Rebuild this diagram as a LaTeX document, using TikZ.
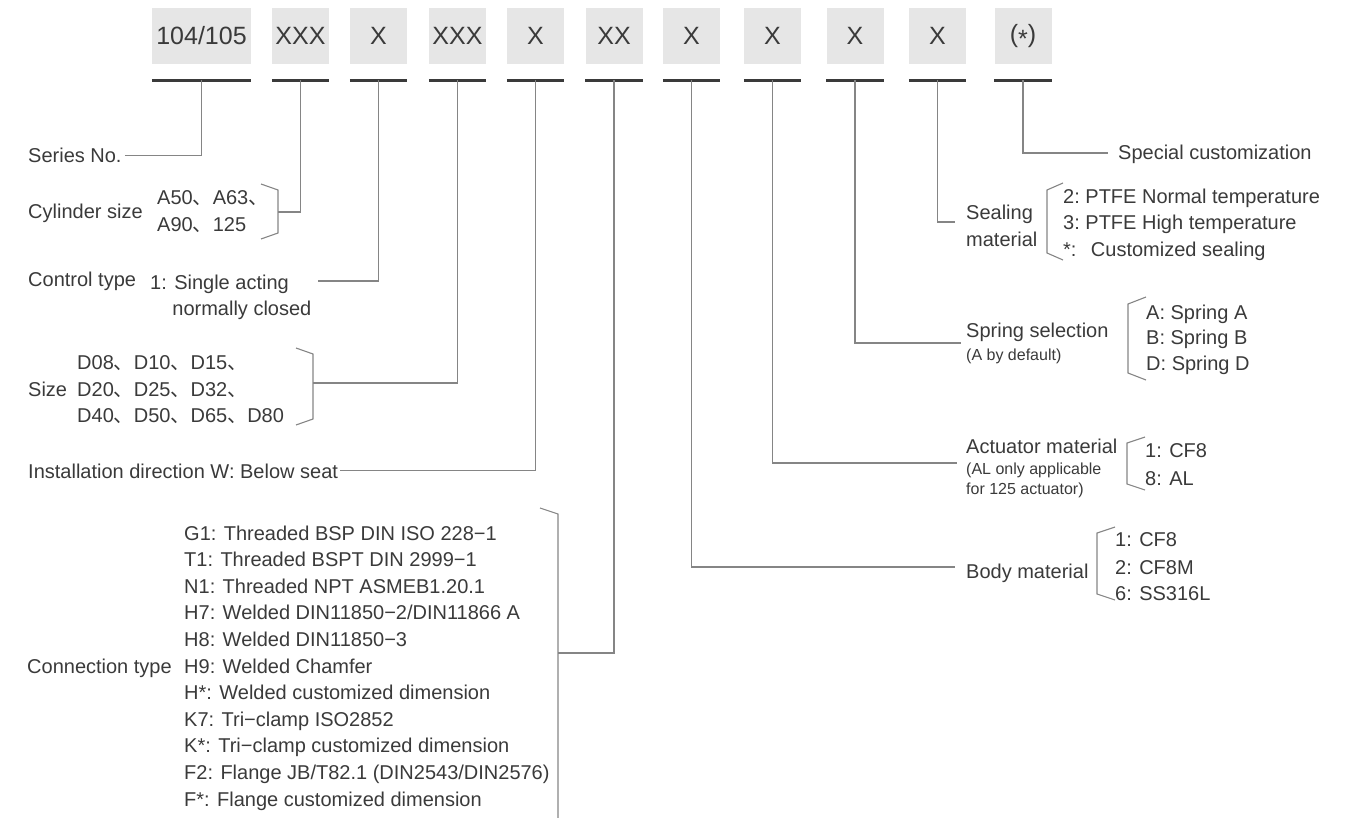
\documentclass[tikz,border=0pt]{standalone}
\usepackage{fontspec}
\setmainfont{Liberation Sans}
\newfontfamily\cjk{Noto Sans CJK SC}
\newcommand\dun{{\cjk 、}}
\definecolor{ink}{HTML}{3A3A3A}
\definecolor{wire}{HTML}{858585}
\definecolor{cellgray}{HTML}{E6E6E6}

\begin{document}
\begin{tikzpicture}[x=1pt,y=-1pt,
  cell/.style={fill=cellgray, minimum width=57pt, minimum height=56pt, inner sep=0pt,
               text=ink, font=\fontsize{25}{30}\selectfont},
  uline/.style={draw=ink, line width=2.8pt},
  conn/.style={draw=wire, line width=1.1pt},
  lbl/.style={inner sep=0pt, text=ink, anchor=base west, text height=15pt, text depth=0pt,
              font=\fontsize{20}{26}\selectfont},
  note/.style={lbl, text height=11pt, font=\fontsize{16}{20}\selectfont},
]
\useasboundingbox (0,0) rectangle (1367,818);

% code cells
\node[cell, minimum width=99pt] (b1) at (201.5,36) {104/105};
\node[cell] (b2)  at (300.5,36) {XXX};
\node[cell] (b3)  at (378.5,36) {X};
\node[cell] (b4)  at (457.5,36) {XXX};
\node[cell] (b5)  at (535.5,36) {X};
\node[cell] (b6)  at (614,36)   {XX};
\node[cell] (b7)  at (691.5,36) {X};
\node[cell] (b8)  at (772.5,36) {X};
\node[cell] (b9)  at (855,36)   {X};
\node[cell] (b10) at (937.5,36) {X};
\node[cell] (b11) at (1023,36)  {(\raisebox{-0.22em}{*})};

% underlines and their tap points
\foreach \i in {1,...,11}{
  \draw[uline] ([yshift=-16pt]b\i.south west) -- ([yshift=-16pt]b\i.south east);
  \coordinate (u\i) at ([yshift=-16pt]b\i.south);
}

% ---------- left-hand descriptions ----------
\node[lbl] (series) at (28,163) {Series No.};

\node[lbl] (cyl)  at (28,219)  {Cylinder size};
\node[lbl] (cyl1) at (157,205) {A50\dun A63\dun};
\node[lbl] (cyl2) at (157,232) {A90\dun 125};

\node[lbl] (ctl)  at (28,286)  {Control type};
\node[lbl] (ctl1) at (150,289) {1: Single acting};
\node[lbl] (ctl2) at (150,315) {\phantom{1:\ }normally closed};

\node[lbl] (size)  at (28,396) {Size};
\node[lbl] (size1) at (77,369) {D08\dun D10\dun D15\dun};
\node[lbl] (size2) at (77,396) {D20\dun D25\dun D32\dun};
\node[lbl] (size3) at (77,422) {D40\dun D50\dun D65\dun D80};

\node[lbl] (inst) at (28,478) {Installation direction W: Below seat};

\node[lbl] (con) at (27,673) {Connection type};
\foreach \t [count=\k from 0] in {
  {G1: Threaded BSP DIN ISO 228\textminus 1},
  {T1: Threaded BSPT DIN 2999\textminus 1},
  {N1: Threaded NPT ASMEB1.20.1},
  {H7: Welded DIN11850\textminus 2/DIN11866 A},
  {H8: Welded DIN11850\textminus 3},
  {H9: Welded Chamfer},
  {H*: Welded customized dimension},
  {K7: Tri\textminus clamp ISO2852},
  {K*: Tri\textminus clamp customized dimension},
  {F2: Flange JB/T82.1 (DIN2543/DIN2576)},
  {F*: Flange customized dimension}}{
  \node[lbl] (con\k) at (184,540+26.6*\k) {\t};
}

% ---------- right-hand descriptions ----------
\node[lbl] (spec) at (1118,160) {Special customization};

\node[lbl] (seal1) at (966,220) {Sealing};
\node[lbl] (seal2) at (966,247) {material};
\node[lbl] (sealA) at (1063,204) {2:\ PTFE Normal temperature};
\node[lbl] (sealB) at (1063,230) {3:\ PTFE High temperature};
\node[lbl] (sealC) at (1063,257) {\rlap{*:}\phantom{2:}\ \ Customized sealing};

\node[lbl]  (spr)  at (966,337) {Spring selection};
\node[note] (sprn) at (966,360) {(A by default)};
\node[lbl]  (sprA) at (1146,319) {A: Spring A};
\node[lbl]  (sprB) at (1146,344) {B: Spring B};
\node[lbl]  (sprD) at (1146,370) {D: Spring D};

\node[lbl]  (act)  at (966,453) {Actuator material};
\node[note] (actn1) at (966,474) {(AL only applicable};
\node[note] (actn2) at (966,494) {for 125 actuator)};
\node[lbl]  (act1) at (1145,457) {1: CF8};
\node[lbl]  (act8) at (1145,485) {8: AL};

\node[lbl] (body)  at (966,578)  {Body material};
\node[lbl] (body1) at (1115,546) {1: CF8};
\node[lbl] (body2) at (1115,574) {2: CF8M};
\node[lbl] (body6) at (1115,600) {6: SS316L};

% ---------- brackets ----------
\draw[conn] (261,184) -- (278,190) -- (278,233) -- (261,239);
\draw[conn] (296,348) -- (313,354) -- (313,419) -- (296,425);
\draw[conn] (540,508) -- (558,514) -- (558,818);
\draw[conn] (1063,183) -- (1047,190) -- (1047,253) -- (1063,260);
\draw[conn] (1146,297) -- (1128,304) -- (1128,373) -- (1146,380);
\draw[conn] (1145,437) -- (1127,443) -- (1127,484) -- (1145,490);
\draw[conn] (1115,527) -- (1097,533) -- (1097,594) -- (1115,600);

% connector ends
\coordinate (cylB)  at (278,212);
\coordinate (ctlE)  at (318,281);
\coordinate (sizeB) at (313,383);
\coordinate (conB)  at (558,653);
\coordinate (bodyE) at (955,567);
\coordinate (actE)  at (957,463);
\coordinate (sprE)  at (961,343);
\coordinate (sealE) at (955,222);
\coordinate (specE) at (1108,153);

% ---------- connectors ----------
\draw[conn, shorten <=3pt] (series.east) -| (u1);
\draw[conn] (cylB)  -| (u2);
\draw[conn] (ctlE)  -| (u3);
\draw[conn] (sizeB) -| (u4);
\draw[conn, shorten <=2pt] (inst.east) -| (u5);
\draw[conn] (conB)  -| (u6);
\draw[conn] (u7)  |- (bodyE);
\draw[conn] (u8)  |- (actE);
\draw[conn] (u9)  |- (sprE);
\draw[conn] (u10) |- (sealE);
\draw[conn] (u11) |- (specE);
\end{tikzpicture}
\end{document}
